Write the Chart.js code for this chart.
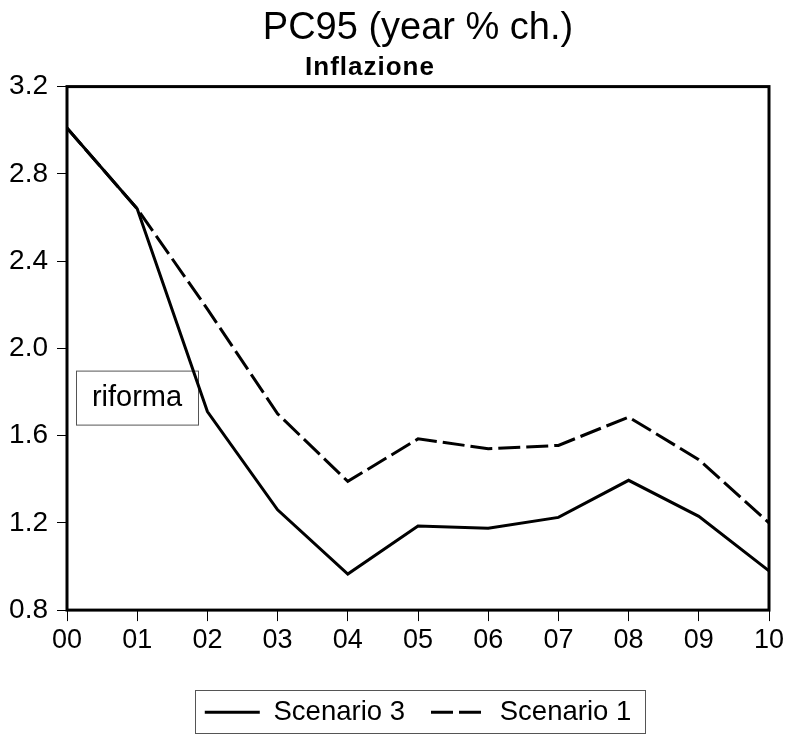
<!DOCTYPE html>
<html><head><meta charset="utf-8">
<script src="https://cdn.jsdelivr.net/npm/chart.js@4.4.0/dist/chart.umd.min.js"></script>
<style>html,body{margin:0;padding:0;background:#fff;}</style>
</head><body>
<canvas id="c" width="787" height="736"></canvas>
<script>
const categories = ['00','01','02','03','04','05','06','07','08','09','10'];
const scenario3 = [3.01, 2.64, 1.71, 1.26, 0.965, 1.185, 1.175, 1.225, 1.395, 1.23, 0.98];
const scenario1 = [3.01, 2.64, 2.18, 1.70, 1.39, 1.585, 1.54, 1.555, 1.685, 1.49, 1.20];
const yTicks = [0.8, 1.2, 1.6, 2.0, 2.4, 2.8, 3.2];
const titleText = 'PC95 (year % ch.)';
const subtitleText = 'Inflazione';
const noteText = 'riforma';

const FAM = '"Liberation Sans", Arial, Helvetica, sans-serif';
Chart.defaults.font.family = FAM;
Chart.defaults.color = '#000';

const decor = {
  id: 'decor',
  beforeDatasetsDraw(chart) {
    const {ctx, chartArea: a} = chart;
    ctx.save();
    const bx = a.left + 9, by = a.top + 284, bw = 122, bh = 54;
    ctx.fillStyle = '#fff';
    ctx.fillRect(bx, by, bw, bh);
    ctx.strokeStyle = '#555';
    ctx.lineWidth = 1;
    ctx.strokeRect(bx + 0.5, by + 0.5, bw, bh);
    ctx.fillStyle = '#000';
    ctx.font = '29px ' + FAM;
    ctx.textAlign = 'center';
    ctx.textBaseline = 'middle';
    ctx.fillText(noteText, bx + bw / 2, by + bh / 2);
    ctx.restore();
  },
  afterDatasetsDraw(chart) {
    const {ctx, chartArea: a} = chart;
    ctx.save();
    ctx.strokeStyle = '#000';
    ctx.lineWidth = 3;
    ctx.strokeRect(a.left, a.top, a.right - a.left, a.bottom - a.top);
    ctx.restore();
  },
  afterDraw(chart) {
    const {ctx, chartArea: a} = chart;
    ctx.save();
    ctx.fillStyle = '#000';
    ctx.font = 'bold 26px ' + FAM;
    try { ctx.letterSpacing = '1px'; } catch (e) {}
    ctx.textAlign = 'center';
    ctx.textBaseline = 'alphabetic';
    ctx.fillText(subtitleText, (a.left + a.right) / 2 - 48, 75);
    try { ctx.letterSpacing = '0px'; } catch (e) {}
    const hb = chart.legend.legendHitBoxes;
    if (hb && hb.length) {
      const first = hb[0], last = hb[hb.length - 1];
      const cy = first.top + first.height / 2;
      const left = first.left - 10, right = last.left + last.width + 14;
      ctx.strokeStyle = '#555';
      ctx.lineWidth = 1;
      ctx.strokeRect(Math.round(left) + 0.5, Math.round(cy - 22) + 0.5, Math.round(right - left), 43);
    }
    ctx.restore();
  }
};

new Chart(document.getElementById('c'), {
  type: 'line',
  data: {
    labels: categories,
    datasets: [
      { label: 'Scenario 3', data: scenario3, borderColor: '#000', backgroundColor: '#000',
        borderWidth: 3, pointRadius: 0, tension: 0, fill: false },
      { label: 'Scenario 1', data: scenario1, borderColor: '#000', backgroundColor: '#000',
        borderWidth: 3, borderDash: [22, 6], pointRadius: 0, tension: 0, fill: false }
    ]
  },
  options: {
    responsive: false,
    animation: false,
    devicePixelRatio: 1,
    layout: { padding: { left: 0, right: 18, top: 0, bottom: 0 } },
    plugins: {
      title: { display: true, fullSize: false, text: titleText, color: '#000',
        font: { size: 38, weight: 'normal', family: FAM }, padding: { top: 6, bottom: 35 } },
      legend: {
        position: 'bottom',
        fullSize: false,
        labels: { usePointStyle: true, pointStyle: 'line', pointStyleWidth: 55, boxHeight: 27.5,
          font: { size: 27.5, family: FAM }, color: '#000', padding: 26,
          generateLabels(chart) {
            return Chart.defaults.plugins.legend.labels.generateLabels(chart).map((l, i) => {
              const ds = chart.data.datasets[i];
              return Object.assign({}, l, { lineDash: ds.borderDash || [], lineWidth: 3,
                strokeStyle: '#000', fillStyle: '#000', pointStyle: 'line', lineCap: 'butt' });
            });
          } }
      },
      tooltip: { enabled: false }
    },
    scales: {
      x: {
        offset: false,
        grid: { drawOnChartArea: false, drawTicks: true, tickLength: 11, color: '#000', lineWidth: 1 },
        border: { display: false },
        ticks: { font: { size: 27, family: FAM }, color: '#000', padding: 3, maxRotation: 0, autoSkip: false },
        afterFit(s) { s.height += 13; s.paddingLeft = 0; s.paddingRight = 0; }
      },
      y: {
        min: 0.8, max: 3.2,
        afterBuildTicks(s) { s.ticks = yTicks.map(v => ({ value: v })); },
        grid: { drawOnChartArea: false, drawTicks: true, tickLength: 10, color: '#000', lineWidth: 1 },
        border: { display: false },
        ticks: { font: { size: 28, family: FAM }, color: '#000', padding: 9, autoSkip: false,
          callback: v => Number(v).toFixed(1) },
        afterFit(s) { s.width = 67; }
      }
    }
  },
  plugins: [decor]
});
</script>
</body></html>
